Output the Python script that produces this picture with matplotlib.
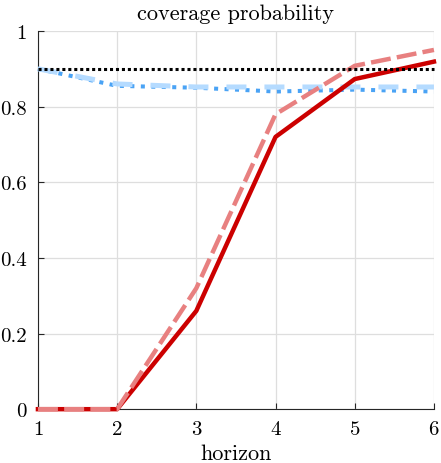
import matplotlib
matplotlib.use("Agg")
import matplotlib.pyplot as plt

horizon = [1, 2, 3, 4, 5, 6]
nominal = [0.9, 0.9, 0.9, 0.9, 0.9, 0.9]
red_solid = [0.0, 0.0, 0.26, 0.72, 0.873, 0.919]
red_dashed = [0.0, 0.0, 0.32, 0.78, 0.908, 0.95]
blue_dashed = [0.9, 0.86, 0.852, 0.852, 0.852, 0.852]
blue_dotted = [0.9, 0.855, 0.85, 0.84, 0.845, 0.84]
xticks = [1, 2, 3, 4, 5, 6]
yticks = [0, 0.2, 0.4, 0.6, 0.8, 1]
yticklabels = ["0", "0.2", "0.4", "0.6", "0.8", "1"]

plt.rcParams['font.family'] = ['cmr10', 'DejaVu Serif']
plt.rcParams['axes.formatter.use_mathtext'] = True

fig = plt.figure(figsize=(4.41, 4.64), dpi=100)
ax = fig.add_axes([0.086, 0.116, 0.898, 0.815])

ax.plot(horizon, blue_dotted, color='#4aa3f5', lw=2.9, ls=(0, (1, 1.6)), clip_on=False, zorder=3)
ax.plot(horizon, blue_dashed, color='#b5dbff', lw=3.6, ls=(0, (4, 3.6)), clip_on=False, zorder=3.5)
ax.plot(horizon, red_solid, color='#cc0000', lw=3.2, clip_on=False, zorder=4)
ax.plot(horizon, red_dashed, color='#e88080', lw=3.2, ls=(0, (4.5, 1.4)), clip_on=False, zorder=5)
ax.plot(horizon, nominal, color='black', lw=2.2, ls=(0, (1, 0.95)), clip_on=False, zorder=6)

ax.set_xlim(1, 6)
ax.set_ylim(0, 1)
ax.set_xticks(xticks)
ax.set_yticks(yticks)
ax.set_yticklabels(yticklabels)
ax.grid(True, color='#dedede', lw=0.9)
ax.set_axisbelow(True)
for s in ['top', 'right']:
    ax.spines[s].set_visible(False)
for s in ['left', 'bottom']:
    ax.spines[s].set_color('#262626')
    ax.spines[s].set_linewidth(0.8)
ax.tick_params(direction='in', length=4, width=0.8, labelsize=15, color='#262626', pad=8)
ax.set_title('coverage probability', fontsize=16, pad=9)
ax.set_xlabel('horizon', fontsize=16, labelpad=4)

fig.savefig('out.png', dpi=100)
